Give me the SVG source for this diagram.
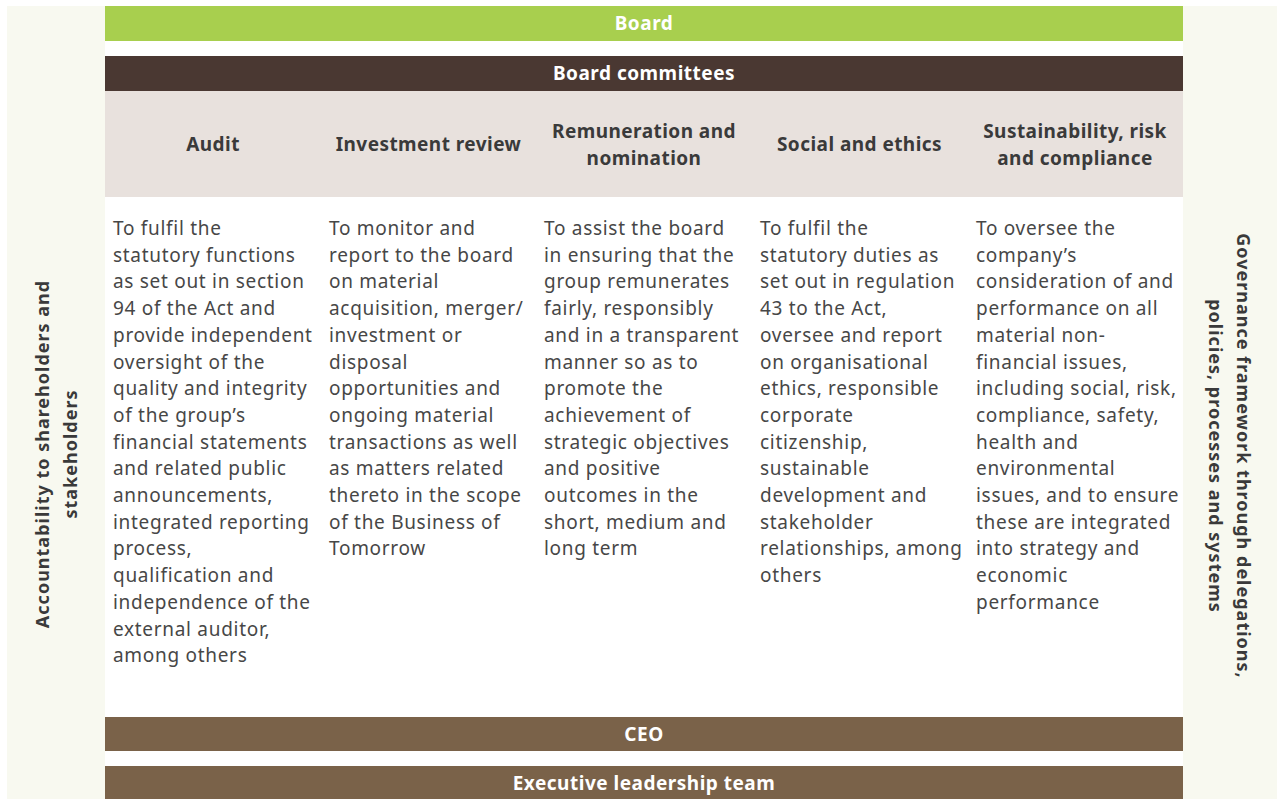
<svg xmlns="http://www.w3.org/2000/svg" width="1277" height="799" viewBox="0 0 1277 799">
<style>
.side{fill:#F8F9F0}
.hdr{font-family:"Noto Sans","Open Sans",sans-serif;font-weight:bold;font-size:19px;fill:#fff;text-anchor:middle;letter-spacing:0.5px}
.ch{font-family:"Noto Sans","Open Sans",sans-serif;font-weight:bold;font-size:19px;fill:#3a3a3a;text-anchor:middle;letter-spacing:0.45px}
.body{font-family:"Noto Sans","Open Sans",sans-serif;font-size:19px;fill:#474747;letter-spacing:0.7px}
.rot{font-family:"Noto Sans","Open Sans",sans-serif;font-weight:bold;font-size:18px;fill:#3a3a3a;text-anchor:middle;letter-spacing:1px}
</style>
<rect width="1277" height="799" fill="#fff"/>
<g id="left-panel">
<rect class="side" x="7" y="6" width="98" height="793"/>
<text class="rot" transform="translate(49,454) rotate(-90)"><tspan x="0" y="0">Accountability to shareholders and</tspan><tspan x="0" y="28">stakeholders</tspan></text>
</g>
<g id="right-panel">
<rect class="side" x="1183" y="6" width="94" height="793"/>
<text class="rot" transform="translate(1237,456) rotate(90)"><tspan x="0" y="0">Governance framework through delegations,</tspan><tspan x="0" y="28">policies, processes and systems</tspan></text>
</g>
<g id="board">
<rect x="105" y="6" width="1078" height="35" fill="#A8CF4E"/>
<text class="hdr" x="644" y="30">Board</text>
</g>
<g id="board-committees">
<rect x="105" y="56" width="1078" height="35" fill="#4A3832"/>
<text class="hdr" x="644" y="80">Board committees</text>
<rect x="105" y="91" width="1078" height="106" fill="#E8E1DD"/>
</g>
<g id="audit">
<text class="ch" x="213" y="151">Audit</text>
<text class="body" x="113" y="235"><tspan x="113" dy="0">To fulfil the</tspan><tspan x="113" dy="26.7">statutory functions</tspan><tspan x="113" dy="26.7">as set out in section</tspan><tspan x="113" dy="26.7">94 of the Act and</tspan><tspan x="113" dy="26.7">provide independent</tspan><tspan x="113" dy="26.7">oversight of the</tspan><tspan x="113" dy="26.7">quality and integrity</tspan><tspan x="113" dy="26.7">of the group’s</tspan><tspan x="113" dy="26.7">financial statements</tspan><tspan x="113" dy="26.7">and related public</tspan><tspan x="113" dy="26.7">announcements,</tspan><tspan x="113" dy="26.7">integrated reporting</tspan><tspan x="113" dy="26.7">process,</tspan><tspan x="113" dy="26.7">qualification and</tspan><tspan x="113" dy="26.7">independence of the</tspan><tspan x="113" dy="26.7">external auditor,</tspan><tspan x="113" dy="26.7">among others</tspan></text>
</g>
<g id="investment-review">
<text class="ch" x="428.5" y="151">Investment review</text>
<text class="body" x="329" y="235"><tspan x="329" dy="0">To monitor and</tspan><tspan x="329" dy="26.7">report to the board</tspan><tspan x="329" dy="26.7">on material</tspan><tspan x="329" dy="26.7">acquisition, merger/</tspan><tspan x="329" dy="26.7">investment or</tspan><tspan x="329" dy="26.7">disposal</tspan><tspan x="329" dy="26.7">opportunities and</tspan><tspan x="329" dy="26.7">ongoing material</tspan><tspan x="329" dy="26.7">transactions as well</tspan><tspan x="329" dy="26.7">as matters related</tspan><tspan x="329" dy="26.7">thereto in the scope</tspan><tspan x="329" dy="26.7">of the Business of</tspan><tspan x="329" dy="26.7">Tomorrow</tspan></text>
</g>
<g id="remuneration-nomination">
<text class="ch" x="644" y="138"><tspan x="644" dy="0">Remuneration and</tspan><tspan x="644" dy="26.5">nomination</tspan></text>
<text class="body" x="544" y="235"><tspan x="544" dy="0">To assist the board</tspan><tspan x="544" dy="26.7">in ensuring that the</tspan><tspan x="544" dy="26.7">group remunerates</tspan><tspan x="544" dy="26.7">fairly, responsibly</tspan><tspan x="544" dy="26.7">and in a transparent</tspan><tspan x="544" dy="26.7">manner so as to</tspan><tspan x="544" dy="26.7">promote the</tspan><tspan x="544" dy="26.7">achievement of</tspan><tspan x="544" dy="26.7">strategic objectives</tspan><tspan x="544" dy="26.7">and positive</tspan><tspan x="544" dy="26.7">outcomes in the</tspan><tspan x="544" dy="26.7">short, medium and</tspan><tspan x="544" dy="26.7">long term</tspan></text>
</g>
<g id="social-ethics">
<text class="ch" x="859.5" y="151">Social and ethics</text>
<text class="body" x="760" y="235"><tspan x="760" dy="0">To fulfil the</tspan><tspan x="760" dy="26.7">statutory duties as</tspan><tspan x="760" dy="26.7">set out in regulation</tspan><tspan x="760" dy="26.7">43 to the Act,</tspan><tspan x="760" dy="26.7">oversee and report</tspan><tspan x="760" dy="26.7">on organisational</tspan><tspan x="760" dy="26.7">ethics, responsible</tspan><tspan x="760" dy="26.7">corporate</tspan><tspan x="760" dy="26.7">citizenship,</tspan><tspan x="760" dy="26.7">sustainable</tspan><tspan x="760" dy="26.7">development and</tspan><tspan x="760" dy="26.7">stakeholder</tspan><tspan x="760" dy="26.7">relationships, among</tspan><tspan x="760" dy="26.7">others</tspan></text>
</g>
<g id="sustainability-risk-compliance">
<text class="ch" x="1075" y="138"><tspan x="1075" dy="0">Sustainability, risk</tspan><tspan x="1075" dy="26.5">and compliance</tspan></text>
<text class="body" x="976" y="235"><tspan x="976" dy="0">To oversee the</tspan><tspan x="976" dy="26.7">company’s</tspan><tspan x="976" dy="26.7">consideration of and</tspan><tspan x="976" dy="26.7">performance on all</tspan><tspan x="976" dy="26.7">material non-</tspan><tspan x="976" dy="26.7">financial issues,</tspan><tspan x="976" dy="26.7">including social, risk,</tspan><tspan x="976" dy="26.7">compliance, safety,</tspan><tspan x="976" dy="26.7">health and</tspan><tspan x="976" dy="26.7">environmental</tspan><tspan x="976" dy="26.7">issues, and to ensure</tspan><tspan x="976" dy="26.7">these are integrated</tspan><tspan x="976" dy="26.7">into strategy and</tspan><tspan x="976" dy="26.7">economic</tspan><tspan x="976" dy="26.7">performance</tspan></text>
</g>
<g id="ceo">
<rect x="105" y="717" width="1078" height="34" fill="#7A6249"/>
<text class="hdr" x="644" y="741">CEO</text>
</g>
<g id="executive-leadership-team">
<rect x="105" y="766" width="1078" height="33" fill="#7A6249"/>
<text class="hdr" x="644" y="790">Executive leadership team</text>
</g>
<g id="connectors"/>
</svg>
